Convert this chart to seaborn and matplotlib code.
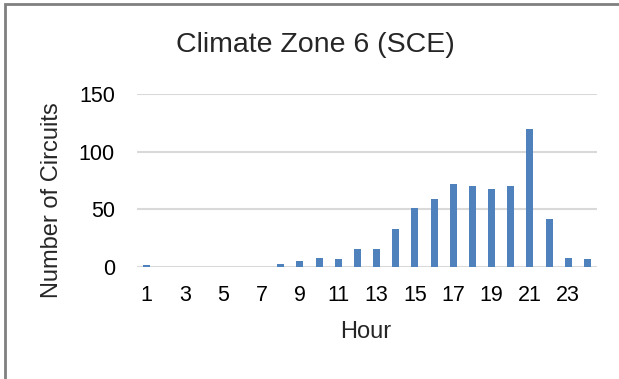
import pandas as pd
import matplotlib.pyplot as plt
import seaborn as sns
from matplotlib.patches import Rectangle

hours = list(range(1, 25))
circuits = [2, 0, 0, 0, 0, 0, 0, 3, 5, 8, 7, 16, 16, 33, 51, 59, 72, 70, 68, 70, 120, 42, 8, 7]

df = pd.DataFrame({'Hour': [str(h) for h in hours], 'Circuits': circuits})

sns.set_style('white')
plt.rcParams['font.family'] = ['Liberation Sans', 'DejaVu Sans']

fig = plt.figure(figsize=(6.19, 3.79), dpi=100)
ax = fig.add_axes([137 / 619, 1 - 267 / 379, 460 / 619, 173 / 379])

sns.barplot(data=df, x='Hour', y='Circuits', color='#4F81BD', saturation=1,
            width=0.36, linewidth=0, ax=ax)

ax.set_ylim(0, 150)
ax.set_yticks([0, 50, 100, 150])
ax.yaxis.grid(True, color='#D9D9D9', linewidth=1.5)
ax.set_axisbelow(True)
ax.set_xticks(range(0, 24, 2))
ax.set_xticklabels([str(h) for h in hours[::2]])
ax.tick_params(axis='both', length=0, labelsize=15.5, colors='#000000')
ax.tick_params(axis='x', pad=13)
ax.tick_params(axis='y', pad=16)
for s in ax.spines.values():
    s.set_visible(False)

ax.set_xlabel('Hour', fontsize=17, va='center', ha='center')
ax.xaxis.set_label_coords(0.498, -0.375)
ax.set_ylabel('Number of Circuits', fontsize=17, va='center', ha='center')
ax.yaxis.set_label_coords(-0.185, 0.387)
fig.text(0.509, 1 - 51.7 / 379, 'Climate Zone 6 (SCE)', ha='center',
         va='baseline', fontsize=20.5)

fig.patches.append(Rectangle((5 / 619, -0.1), 1.2, 1 - 4 / 379 + 0.1,
                             transform=fig.transFigure, fill=False,
                             edgecolor='#808080', linewidth=2))

fig.savefig('out.png', dpi=100)
